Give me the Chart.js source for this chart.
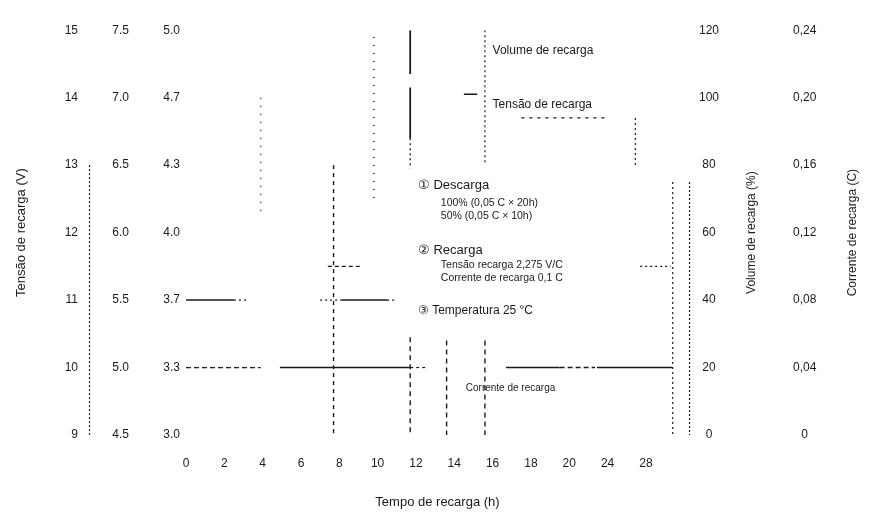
<!DOCTYPE html>
<html><head><meta charset="utf-8">
<script src="https://cdn.jsdelivr.net/npm/chart.js@4.4.1/dist/chart.umd.min.js"></script>
<style>html,body{margin:0;padding:0;background:#fff;overflow:hidden}</style>
</head><body>
<canvas id="c" width="873" height="517"></canvas>
<script>
// ---- tick labels ----
const timeLabels = ['0','2','4','6','8','10','12','14','16','18','20','24','28'];
const timeHours  = [0,2,4,6,8,10,12,14,16,18,20,24,28];
const volt12Labels = ['9','10','11','12','13','14','15'];
const volt6Labels  = ['4.5','5.0','5.5','6.0','6.5','7.0','7.5'];
const voltCellLabels = ['3.0','3.3','3.7','4.0','4.3','4.7','5.0'];
const volumeLabels = ['0','20','40','60','80','100','120'];
const currentLabels = ['0','0,04','0,08','0,12','0,16','0,20','0,24'];

// ---- series pieces: [hours, value] ----
// Tensão (eixo 9–15 V)
const tensao11A = [[0,11],[2.5,11]];
const tensao11B = [[2.5,11],[3.2,11]];
const tensao11C = [[7.0,11],[8.1,11]];
const tensao11D = [[8.1,11],[10.5,11]];
const tensao11E = [[10.5,11],[10.9,11]];
const tensao10A = [[0,10],[3.9,10]];
const tensao10B = [[4.9,10],[11.7,10]];
const tensao10C = [[11.7,10],[12.5,10]];
const tensao115 = [[7.4,11.5],[9.2,11.5]];
// Volume de recarga (%)
const vol8h   = [[7.7,80],[7.7,0]];
const vol10h  = [[9.8,118],[9.8,69]];
const vol12hA = [[11.7,120],[11.7,107]];
const vol12hB = [[11.7,103],[11.7,88]];
const vol12hC = [[11.7,88],[11.7,79]];
const vol12hD = [[11.7,29],[11.7,0]];
const vol14h  = [[13.6,28],[13.6,0]];
const vol16hA = [[15.6,120],[15.6,80]];
const vol16hB = [[15.6,28],[15.6,0]];
const vol4h   = [[3.9,100],[3.9,66]];
const volMark = [[14.5,101],[15.2,101]];
const volCurveH = [[17.5,94],[23.8,94]];
const volCurveV = [[26.9,94],[26.9,80]];
const volEndV = [[30.8,75],[30.8,0]];
const volEndH = [[27.4,50],[30.6,50]];
// Corrente de recarga (C)
const corrA = [[16.7,0.04],[19.5,0.04]];
const corrB = [[19.5,0.04],[22.7,0.04]];
const corrC = [[22.9,0.04],[30.8,0.04]];

const FONT = "'Liberation Sans', Arial, sans-serif";
const INK = '#1a1a1a';

function hourToIdx(h){
  for (let i=0;i<timeHours.length-1;i++){
    if (h <= timeHours[i+1]) return i + (h - timeHours[i])/(timeHours[i+1]-timeHours[i]);
  }
  const n = timeHours.length-1;
  return n + (h - timeHours[n])/(timeHours[n]-timeHours[n-1]);
}

const SOLID = [], DASH = [5,3], DOT = [2,3], SPARSE = [1,7];
const pieces = [
  [tensao11A,'yV',SOLID,1.6],[tensao11B,'yV',DOT,1.2],[tensao11C,'yV',DOT,1.2],
  [tensao11D,'yV',SOLID,1.6],[tensao11E,'yV',DOT,1.2],
  [tensao10A,'yV',DASH,1.3],[tensao10B,'yV',SOLID,1.5],[tensao10C,'yV',[3,3],1.2],
  [tensao115,'yV',[4,3],1.2],
  [vol8h,'yVol',[4,4],1.4],[vol10h,'yVol',SPARSE,1.5],
  [vol12hA,'yVol',SOLID,1.8],[vol12hB,'yVol',SOLID,1.8],[vol12hC,'yVol',DOT,1.3],[vol12hD,'yVol',[5,4],1.4],
  [vol14h,'yVol',[5,4],1.4],[vol16hA,'yVol',DOT,1.2],[vol16hB,'yVol',[5,4],1.4],
  [vol4h,'yVol',SPARSE,1.4],[volMark,'yVol',SOLID,1.5],
  [volCurveH,'yVol',[3,5],1.2],[volCurveV,'yVol',DOT,1.2],
  [volEndV,'yVol',DOT,1.2],[volEndH,'yVol',DOT,1.2],
  [corrA,'yCur',SOLID,1.6],[corrB,'yCur',[5,3],1.4],[corrC,'yCur',SOLID,1.6]
];

const datasets = pieces.map(([pts, axis, dash, w]) => ({
  data: pts.map(([h,v]) => ({x: hourToIdx(h), y: v})),
  yAxisID: axis, borderColor: INK, borderWidth: w, borderDash: dash,
  pointRadius: 0, fill: false, tension: 0
}));

const notes = [
  {text:'Volume de recarga', h:16.0, v:114, size:12},
  {text:'Tensão de recarga', h:16.0, v:98, size:12},
  {text:'① Descarga', h:12.1, v:74, size:13},
  {text:'100% (0,05 C × 20h)', h:13.3, v:68.8, size:10.5},
  {text:'50% (0,05 C × 10h)', h:13.3, v:65.0, size:10.5},
  {text:'② Recarga', h:12.1, v:54.7, size:13},
  {text:'Tensão recarga 2,275 V/C', h:13.3, v:50.3, size:10.5},
  {text:'Corrente de recarga 0,1 C', h:13.3, v:46.6, size:10.5},
  {text:'③ Temperatura 25 °C', h:12.1, v:36.8, size:12},
  {text:'Corrente de recarga', h:14.6, v:13.8, size:10}
];
const rightTitles = [
  {axis:'yVol', text:'Volume de recarga (%)', inset:18, size:12},
  {axis:'yCur', text:'Corrente de recarga (C)', inset:20, size:12}
];
// dotted axis lines: axis, side, value range on that axis
const axisLines = [
  {axis:'yV', side:'right', from:13, to:9},
  {axis:'yVol', side:'left', from:75, to:0}
];

const overlay = {
  id:'overlay',
  afterDatasetsDraw(chart){
    const {ctx, scales} = chart;
    ctx.save();
    ctx.strokeStyle = INK;
    ctx.lineWidth = 1.2;
    ctx.setLineDash([2,2]);
    for (const l of axisLines){
      const s = scales[l.axis];
      const x = (l.side === 'right' ? s.right : s.left) + 0.5;
      ctx.beginPath();
      ctx.moveTo(x, s.getPixelForValue(l.from));
      ctx.lineTo(x, s.getPixelForValue(l.to));
      ctx.stroke();
    }
    ctx.setLineDash([]);
    ctx.fillStyle = INK;
    ctx.textBaseline = 'middle';
    ctx.textAlign = 'left';
    for (const a of notes){
      ctx.font = a.size + 'px ' + FONT;
      ctx.fillText(a.text, scales.x.getPixelForValue(hourToIdx(a.h)), scales.yVol.getPixelForValue(a.v));
    }
    for (const t of rightTitles){
      const s = scales[t.axis];
      ctx.save();
      ctx.translate(s.right - t.inset, (s.top + s.bottom)/2);
      ctx.rotate(-Math.PI/2);
      ctx.textAlign = 'center';
      ctx.font = t.size + 'px ' + FONT;
      ctx.fillText(t.text, 0, 0);
      ctx.restore();
    }
    ctx.restore();
  }
};

const tickFont = {family: FONT, size: 12};
function evenTicks(labels, min, max){
  return s => { s.ticks = labels.map((_, i) => ({value: min + i*(max-min)/(labels.length-1)})); };
}

new Chart(document.getElementById('c'), {
  type:'line',
  data:{datasets},
  plugins:[overlay],
  options:{
    responsive:false, animation:false,
    layout:{padding:{top:25,left:0,right:0,bottom:0}},
    plugins:{legend:{display:false}, tooltip:{enabled:false}},
    scales:{
      x:{type:'linear', min:0, max:hourToIdx(32.5), position:'bottom',
         grid:{display:false, drawTicks:false}, border:{display:false},
         afterBuildTicks: s => { s.ticks = timeLabels.map((_, i) => ({value:i})); },
         ticks:{autoSkip:false, maxRotation:0, padding:21, font:tickFont, color:INK,
                callback:(v,i)=> timeLabels[i] ?? ''},
         title:{display:true, text:'Tempo de recarga (h)', color:INK, font:{family:FONT,size:13}, padding:{top:0,bottom:7}},
         afterFit: s => { s.height = 82; }},
      yV:{position:'left', weight:3, min:9, max:15,
         grid:{display:false, drawTicks:false}, border:{display:false},
         afterBuildTicks: evenTicks(volt12Labels, 9, 15),
         ticks:{padding:11, font:tickFont, color:INK, callback:(v,i)=>volt12Labels[i]},
         title:{display:true, text:'Tensão de recarga (V)', color:INK, font:{family:FONT,size:13}, padding:{top:14,bottom:0}},
         afterFit: s => { s.width = 89; }},
      y6:{position:'left', weight:2, min:4.5, max:7.5,
         grid:{display:false, drawTicks:false}, border:{display:false},
         afterBuildTicks: evenTicks(volt6Labels, 4.5, 7.5),
         ticks:{padding:6, font:tickFont, color:INK, callback:(v,i)=>volt6Labels[i]},
         afterFit: s => { s.width = 46; }},
      yCell:{position:'left', weight:1, min:3.0, max:5.0,
         grid:{display:false, drawTicks:false}, border:{display:false},
         afterBuildTicks: evenTicks(voltCellLabels, 3.0, 5.0),
         ticks:{padding:6, font:tickFont, color:INK, callback:(v,i)=>voltCellLabels[i]},
         afterFit: s => { s.width = 51; }},
      yVol:{position:'right', weight:1, min:0, max:120,
         grid:{display:false, drawTicks:false}, border:{display:false},
         afterBuildTicks: evenTicks(volumeLabels, 0, 120),
         ticks:{padding:10, crossAlign:'center', font:tickFont, color:INK, callback:(v,i)=>volumeLabels[i]},
         afterFit: s => { s.width = 81; }},
      yCur:{position:'right', weight:2, min:0, max:0.24,
         grid:{display:false, drawTicks:false}, border:{display:false},
         afterBuildTicks: evenTicks(currentLabels, 0, 0.24),
         ticks:{padding:23, crossAlign:'center', font:tickFont, color:INK, callback:(v,i)=>currentLabels[i]},
         afterFit: s => { s.width = 103; }}
    }
  }
});
</script>
</body></html>
